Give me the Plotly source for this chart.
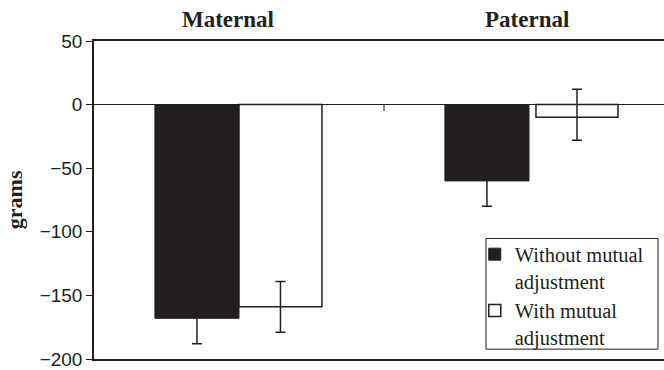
import plotly.graph_objects as go

categories = ["Maternal", "Paternal"]
series_names = ["Without mutual<br>adjustment", "With mutual<br>adjustment"]
without_adj = [-168, -60]
without_err = [20, 20]
with_adj = [-159, -10]
with_err_plus = [20, 22]
with_err_minus = [20, 18]
y_ticks = [50, 0, -50, -100, -150, -200]

INK = "#231f20"

fig = go.Figure()
fig.add_trace(go.Bar(
    x=categories, y=without_adj, name=series_names[0],
    marker=dict(color=INK, line=dict(color=INK, width=1)),
    offset=[-0.29, -0.29], width=[0.29, 0.29],
    error_y=dict(type="data", array=without_err, color=INK, thickness=1.5, width=5),
))
fig.add_trace(go.Bar(
    x=categories, y=with_adj, name=series_names[1],
    marker=dict(color="white", line=dict(color=INK, width=1.5)),
    offset=[0.0, 0.024], width=[0.286, 0.283],
    error_y=dict(type="data", symmetric=False, array=with_err_plus,
                 arrayminus=with_err_minus, color=INK, thickness=1.5, width=5),
))

for cat, dx in zip(categories, [-11, -2]):
    fig.add_annotation(x=cat, y=1, xref="x", yref="paper", yanchor="bottom",
                       yshift=7, xshift=dx, showarrow=False, text=f"<b>{cat}</b>",
                       font=dict(family="Liberation Serif", size=23, color=INK))

fig.add_annotation(x=-0.14, y=0.5, xref="paper", yref="paper", textangle=-90,
                   xanchor="center", yanchor="middle",
                   showarrow=False, text="<b>grams</b>",
                   font=dict(family="Liberation Serif", size=22, color=INK))

# separator tick between categories on the zero line
fig.add_shape(type="line", xref="x", yref="y", x0=0.5, x1=0.5, y0=0, y1=-5,
              line=dict(color=INK, width=1))
# legend frame
fig.add_shape(type="rect", xref="paper", yref="paper",
              x0=0.6877, x1=0.9895, y0=0.031, y1=0.379,
              line=dict(color=INK, width=1), fillcolor="white", layer="below")

fig.update_layout(
    width=664, height=370,
    margin=dict(l=94, r=0, t=41, b=7),
    paper_bgcolor="white", plot_bgcolor="white",
    showlegend=True,
    legend=dict(x=0.668, y=0.392, xanchor="left", yanchor="top",
                bgcolor="rgba(0,0,0,0)", borderwidth=0, valign="top",
                font=dict(family="Liberation Serif", size=20.5, color=INK)),
    xaxis=dict(range=[-0.5, 1.4655], showticklabels=False, ticks="",
               showline=True, linecolor=INK, linewidth=1.5, mirror=True,
               showgrid=False, zeroline=False),
    yaxis=dict(range=[-200, 50], tickvals=y_ticks, ticks="outside", ticklen=6,
               tickcolor=INK, tickwidth=1, showline=True, linecolor=INK,
               linewidth=1.5, showgrid=False, zeroline=True, zerolinecolor=INK,
               zerolinewidth=1.2, ticklabeloverflow="allow",
               tickfont=dict(family="Liberation Sans", size=19, color=INK)),
)

fig.write_html("out.html", config={"displayModeBar": False},
               post_script="document.body.style.margin='0';document.body.style.padding='0';")
